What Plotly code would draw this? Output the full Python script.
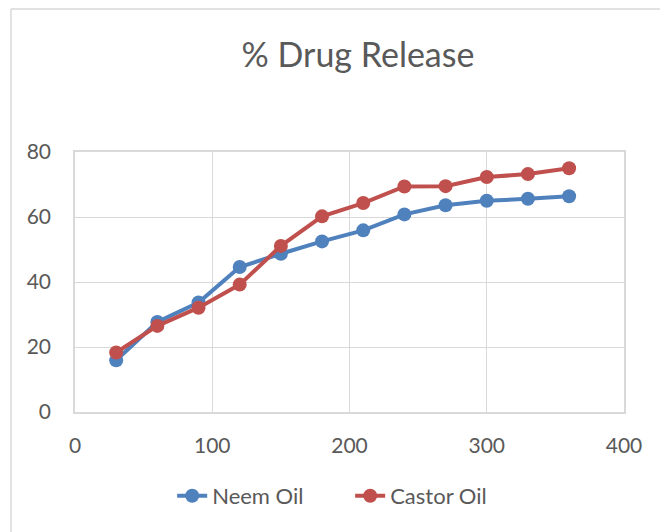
import plotly.graph_objects as go

# Release time points (min) and cumulative % drug released
time_min = [30, 60, 90, 120, 150, 180, 210, 240, 270, 300, 330, 360]
neem_oil = [15.9, 27.7, 33.7, 44.6, 48.7, 52.5, 55.9, 60.8, 63.6, 65.0, 65.6, 66.4]
castor_oil = [18.3, 26.5, 32.1, 39.2, 51.1, 60.2, 64.3, 69.4, 69.5, 72.3, 73.2, 75.0]

x_ticks = [0, 100, 200, 300, 400]
y_ticks = [0, 20, 40, 60, 80]

FONT = "Lato"
TEXT = "#595959"
GRID = "#d9d9d9"

fig = go.Figure()
fig.add_trace(go.Scatter(
    x=time_min, y=neem_oil, name="Neem Oil", mode="lines+markers",
    line=dict(color="#4f81bd", width=4),
    marker=dict(color="#4f81bd", size=14),
))
fig.add_trace(go.Scatter(
    x=time_min, y=castor_oil, name="Castor Oil", mode="lines+markers",
    line=dict(color="#c0504d", width=4),
    marker=dict(color="#c0504d", size=14),
))

axis_common = dict(
    showgrid=True, gridcolor=GRID, gridwidth=1,
    showline=True, linecolor=GRID, linewidth=1.5, mirror=True,
    zeroline=False, ticks="",
    tickfont=dict(family=FONT, size=21, color=TEXT),
    fixedrange=True,
)

fig.update_xaxes(range=[0, 400], tickvals=x_ticks, ticklabelstandoff=14, **axis_common)
fig.update_yaxes(range=[0, 80], tickvals=y_ticks, ticklabelstandoff=18, **axis_common)

# chart-area frame (left and top edges)
fig.add_shape(type="line", xref="paper", yref="paper",
              x0=-0.1166, x1=-0.1166, y0=1.55, y1=-0.6,
              line=dict(color=GRID, width=1.5))
fig.add_shape(type="line", xref="paper", yref="paper",
              x0=-0.1166, x1=1.2, y0=1.55, y1=1.55,
              line=dict(color=GRID, width=1.5))

fig.update_layout(
    width=660, height=532,
    margin=dict(l=75, r=36, t=152, b=120),
    paper_bgcolor="white", plot_bgcolor="white",
    title=dict(text="% Drug Release", x=0.5155, xref="paper", xanchor="center",
               y=1 - 55 / 532, yref="container", yanchor="middle",
               font=dict(family=FONT, size=34, color=TEXT)),
    legend=dict(orientation="h", x=0.177, xanchor="left", y=-0.323, yanchor="middle",
                font=dict(family=FONT, size=22, color=TEXT),
                entrywidth=133, entrywidthmode="pixels",
                bgcolor="rgba(0,0,0,0)"),
    showlegend=True,
)

fig.write_html("out.html")
